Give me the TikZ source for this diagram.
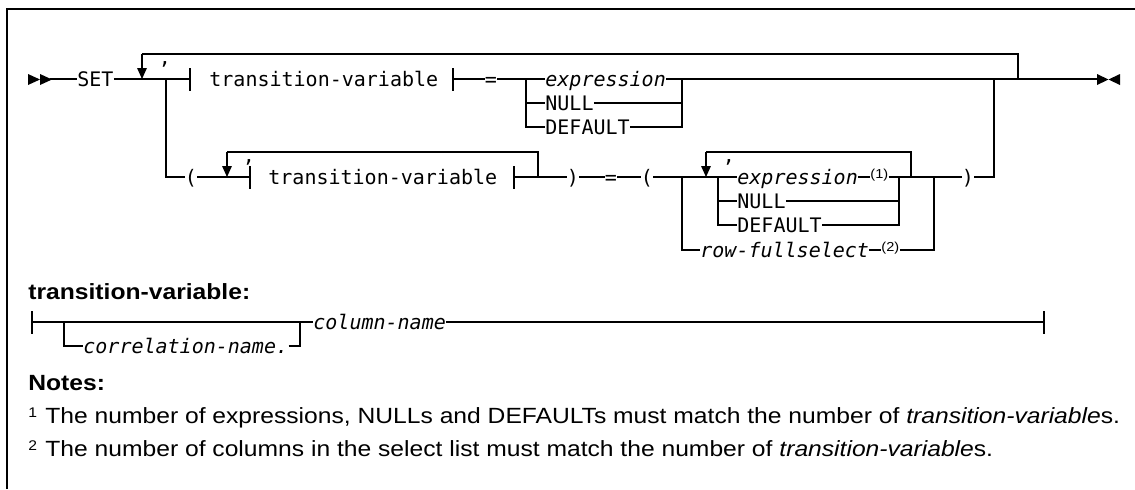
\documentclass[tikz,border=0pt]{standalone}
\usepackage{fontspec}
\setmonofont{DejaVu Sans Mono}
\newfontfamily\notefont[FakeStretch=1.12]{Liberation Sans}
\usetikzlibrary{arrows.meta,positioning}

\begin{document}
\begin{tikzpicture}[x=0.5pt,y=-0.5pt,
    rail/.style={line width=0.6pt},
    loopdown/.style={line width=0.6pt,-{Triangle[length=5.5pt,width=4.8pt]}},
    kw/.style={font=\ttfamily\fontsize{10}{12}\selectfont,inner sep=0pt,anchor=west,text height=7.3pt,text depth=0pt},
    var/.style={kw,font=\ttfamily\itshape\fontsize{10}{12}\selectfont},
    sym/.style={kw,anchor=center},
    fnref/.style={font=\notefont\fontsize{6.5}{7}\selectfont,inner sep=0pt,anchor=west},
    head/.style={font=\notefont\bfseries\fontsize{11}{13}\selectfont,inner sep=0pt,anchor=base west},
    note/.style={font=\notefont\fontsize{11}{13}\selectfont,inner sep=0pt,anchor=base west}]
  \useasboundingbox (0,0) rectangle (1135,489);
  \draw[line width=0.8pt] (7,489) -- (7,9) -- (1135,9);

  % first row: SET ... = expression/NULL/DEFAULT
  \coordinate (start) at (50,79);
  \node[kw] (set) at (77,79) {SET};
  \coordinate (lpAtop) at (142,54);
  \coordinate (lpA) at (142,79);
  \coordinate (jA) at (166,79);
  \coordinate (barA) at (190,79);
  \node[kw] (tvA) at (209,79) {transition-variable};
  \coordinate (barB) at (453,79);
  \node[sym] (eqA) at (491,79) {=};
  \coordinate (jB) at (526,79);
  \node[var] (exprA) at (545,79) {expression};
  \node[kw] (nullA) at (545,103) {NULL};
  \node[kw] (defA) at (545,127) {DEFAULT};
  \coordinate (mB) at (682,79);
  \coordinate (jC) at (994,79);
  \coordinate (lpAend) at (1018,79);
  \coordinate (stop) at (1097,79);
  \node[kw,anchor=base] (cmA) at (165,64) {,};

  \fill (28,74) -- (40,79.5) -- (28,85) -- cycle;
  \fill (40,74) -- (52,79.5) -- (40,85) -- cycle;
  \draw[rail] (start) -- (set.west);
  \draw[rail] (set.east) -- (barA) ++(0,-11) -- ++(0,23);
  \draw[rail] (lpAtop) -- (lpAtop -| lpAend) -- (lpAend);
  \draw[loopdown] (lpAtop) -- (lpA);
  \draw[rail] (barB) ++(0,-11) -- ++(0,23);
  \draw[rail] (barB) -- (eqA.west);
  \draw[rail] (eqA.east) -- (exprA.west);
  \draw[rail] (jB) |- (nullA.west);
  \draw[rail] (jB) |- (defA.west);
  \draw[rail] (exprA.east) -- (stop);
  \draw[rail] (nullA.east) -| (mB);
  \draw[rail] (defA.east) -| (mB);
  \fill (1097,74) -- (1108.5,79.5) -- (1097,85) -- cycle;
  \fill (1120,74) -- (1108.5,79.5) -- (1120,85) -- cycle;

  % second row: ( transition-variable ) = ( ... )
  \node[sym] (lparA) at (191,177) {(};
  \coordinate (lpBtop) at (227,152);
  \coordinate (lpB) at (227,177);
  \coordinate (barC) at (250,177);
  \node[kw] (tvB) at (268,177) {transition-variable};
  \coordinate (barD) at (514,177);
  \coordinate (lpBend) at (538,177);
  \node[sym] (rparA) at (573,177) {)};
  \node[sym] (eqB) at (611,177) {=};
  \node[sym] (lparB) at (647,177) {(};
  \coordinate (jD) at (682,177);
  \coordinate (lpCtop) at (706,152);
  \coordinate (lpC) at (706,177);
  \coordinate (jE) at (718,177);
  \node[var] (exprB) at (737,177) {expression};
  \node[kw] (nullB) at (737,201) {NULL};
  \node[kw] (defB) at (737,225) {DEFAULT};
  \node[fnref] (refA) at (870,175) {(1)};
  \coordinate (mE) at (899,177);
  \coordinate (lpCend) at (911,177);
  \coordinate (mD) at (934,177);
  \node[sym] (rparB) at (968,177) {)};
  \node[var] (rowsel) at (700,250) {row-fullselect};
  \node[fnref] (refB) at (881,248) {(2)};
  \node[kw,anchor=base] (cmB) at (249,162) {,};
  \node[kw,anchor=base] (cmC) at (729,162) {,};

  \draw[rail] (jA) |- (lparA.west);
  \draw[rail] (lparA.east) -- (barC) ++(0,-11) -- ++(0,23);
  \draw[rail] (lpBtop) -- (lpBtop -| lpBend) -- (lpBend);
  \draw[loopdown] (lpBtop) -- (lpB);
  \draw[rail] (barD) ++(0,-11) -- ++(0,23);
  \draw[rail] (barD) -- (rparA.west);
  \draw[rail] (rparA.east) -- (eqB.west);
  \draw[rail] (eqB.east) -- (lparB.west);
  \draw[rail] (lparB.east) -- (exprB.west);
  \draw[rail] (jD) |- (rowsel.west);
  \draw[rail] (lpCtop) -- (lpCtop -| lpCend) -- (lpCend);
  \draw[loopdown] (lpCtop) -- (lpC);
  \draw[rail] (jE) |- (nullB.west);
  \draw[rail] (jE) |- (defB.west);
  \draw[rail] (exprB.east) -- (exprB.east -| refA.west);
  \draw[rail] (refA.east |- exprB.east) -- (rparB.west);
  \draw[rail] (nullB.east) -| (mE);
  \draw[rail] (defB.east) -| (mE);
  \draw[rail] (rowsel.east) -- (rowsel.east -| refB.west);
  \draw[rail] (refB.east |- rowsel.east) -| (mD);
  \draw[rail] (rparB.east) -| (jC);

  % fragment: transition-variable
  \node[head] (tvhead) at (28,299) {transition-variable:};
  \coordinate (fstart) at (32,322);
  \coordinate (jH) at (64,322);
  \coordinate (jI) at (300,322);
  \node[var] (corr) at (83,346) {correlation-name.};
  \node[var] (col) at (313,322) {column-name};
  \coordinate (fend) at (1044,322);
  \draw[rail] (fstart) ++(0,-11) -- ++(0,23);
  \draw[rail] (fstart) -- (col.west);
  \draw[rail] (jH) |- (corr.west);
  \draw[rail] (corr.east) -| (jI);
  \draw[rail] (col.east) -- (fend) ++(0,-11) -- ++(0,23);

  % notes
  \node[head] (notes) at (28,390) {Notes:};
  \node[note,font=\notefont\fontsize{7}{8}\selectfont] (supA) at (28,417) {1};
  \node[note] (noteA) at (45,423) {The number of expressions, NULLs and DEFAULTs must match the number of \textit{transition-variable}s.};
  \node[note,font=\notefont\fontsize{7}{8}\selectfont] (supB) at (28,450) {2};
  \node[note] (noteB) at (45,456) {The number of columns in the select list must match the number of \textit{transition-variable}s.};
\end{tikzpicture}
\end{document}
